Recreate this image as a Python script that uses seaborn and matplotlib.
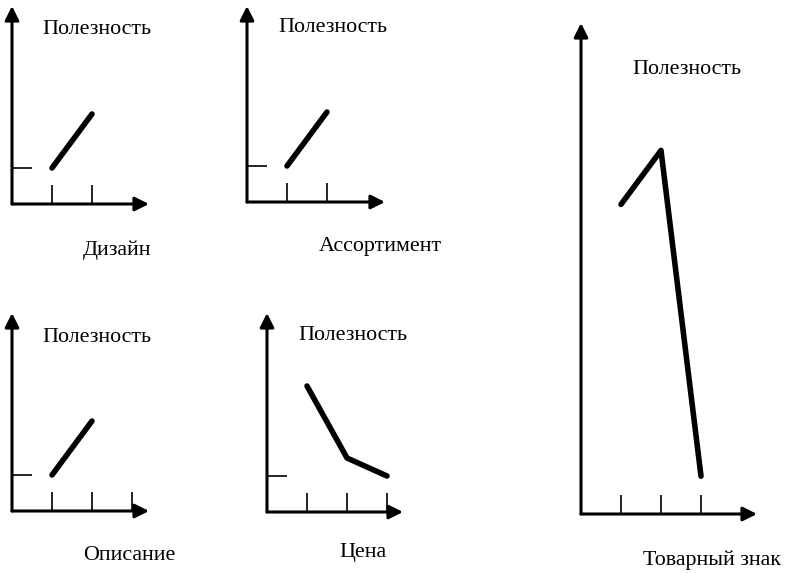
import matplotlib
matplotlib.use("Agg")
import matplotlib.pyplot as plt
import seaborn as sns

sns.set_theme(style="white")
plt.rcParams['font.family'] = ['Liberation Serif', 'DejaVu Serif']

W, H = 787, 573
XU, YU = 40.0, 36.0   # pixels per unit on x and y

y_label = "Полезность"

# attribute levels (x) and utility (y) per panel
design_x = [1, 2]
design_y = [1.0, 2.5]
range_x = [1, 2]
range_y = [1.0, 2.5]
descr_x = [1, 2]
descr_y = [1.0, 2.5]
price_x = [1, 2, 3]
price_y = [3.5, 1.5, 1.0]
brand_x = [1, 2, 3]
brand_y = [8.6, 10.1, 1.05]

panels = [
    # name, x, y, x ticks, y tick, origin px, width, height, title pos, xlabel pos
    ("Дизайн", design_x, design_y, [1, 2], 1.0, (12, 204), 137, 198, (97, 29), (117, 250)),
    ("Ассортимент", range_x, range_y, [1, 2], 1.0, (247, 202), 138, 196, (333, 27), (380, 247)),
    ("Описание", descr_x, descr_y, [1, 2, 3], 1.0, (12, 511), 137, 198, (97, 337), (129, 555)),
    ("Цена", price_x, price_y, [1, 2, 3], 1.0, (267, 512), 136, 199, (353, 335), (363, 553)),
    ("Товарный знак", brand_x, brand_y, [1, 2, 3], None, (581, 514), 176, 491, (687, 69), (712, 560)),
]

fig = plt.figure(figsize=(W / 100, H / 100), dpi=100)

for name, xs, ys, xt, yt, (ox, oy), w, h, tpos, lpos in panels:
    ax = fig.add_axes([ox / W, (H - oy) / H, w / W, h / H])
    ax.set_xlim(0, w / XU)
    ax.set_ylim(0, h / YU)
    sns.lineplot(x=xs, y=ys, ax=ax, color="black", lw=4.0,
                 solid_capstyle="round", solid_joinstyle="round")
    sns.despine(ax=ax, left=True, bottom=True)
    for end in [(1, 0), (0, 1)]:
        ax.annotate("", xy=end, xytext=(0, 0), xycoords="axes fraction",
                    annotation_clip=False,
                    arrowprops=dict(arrowstyle="-|>", color="black", lw=2.2,
                                    mutation_scale=21, shrinkA=0, shrinkB=0))
    ax.set_xticks(xt)
    ax.set_yticks([] if yt is None else [yt])
    ax.tick_params(axis="x", direction="in", length=13.5, width=1.2,
                   color="black", labelbottom=False, bottom=True)
    ax.tick_params(axis="y", direction="in", length=14.5, width=1.2,
                   color="black", labelleft=False, left=True)
    ax.set_xlabel("")
    ax.set_ylabel("")
    ax.patch.set_alpha(0)
    fig.text(tpos[0] / W, 1 - tpos[1] / H, y_label, ha="center", va="center",
             fontsize=15.8, color="black")
    fig.text(lpos[0] / W, 1 - lpos[1] / H, name, ha="center", va="center",
             fontsize=15.8, color="black")

fig.savefig("out.png", dpi=100, facecolor="white")
